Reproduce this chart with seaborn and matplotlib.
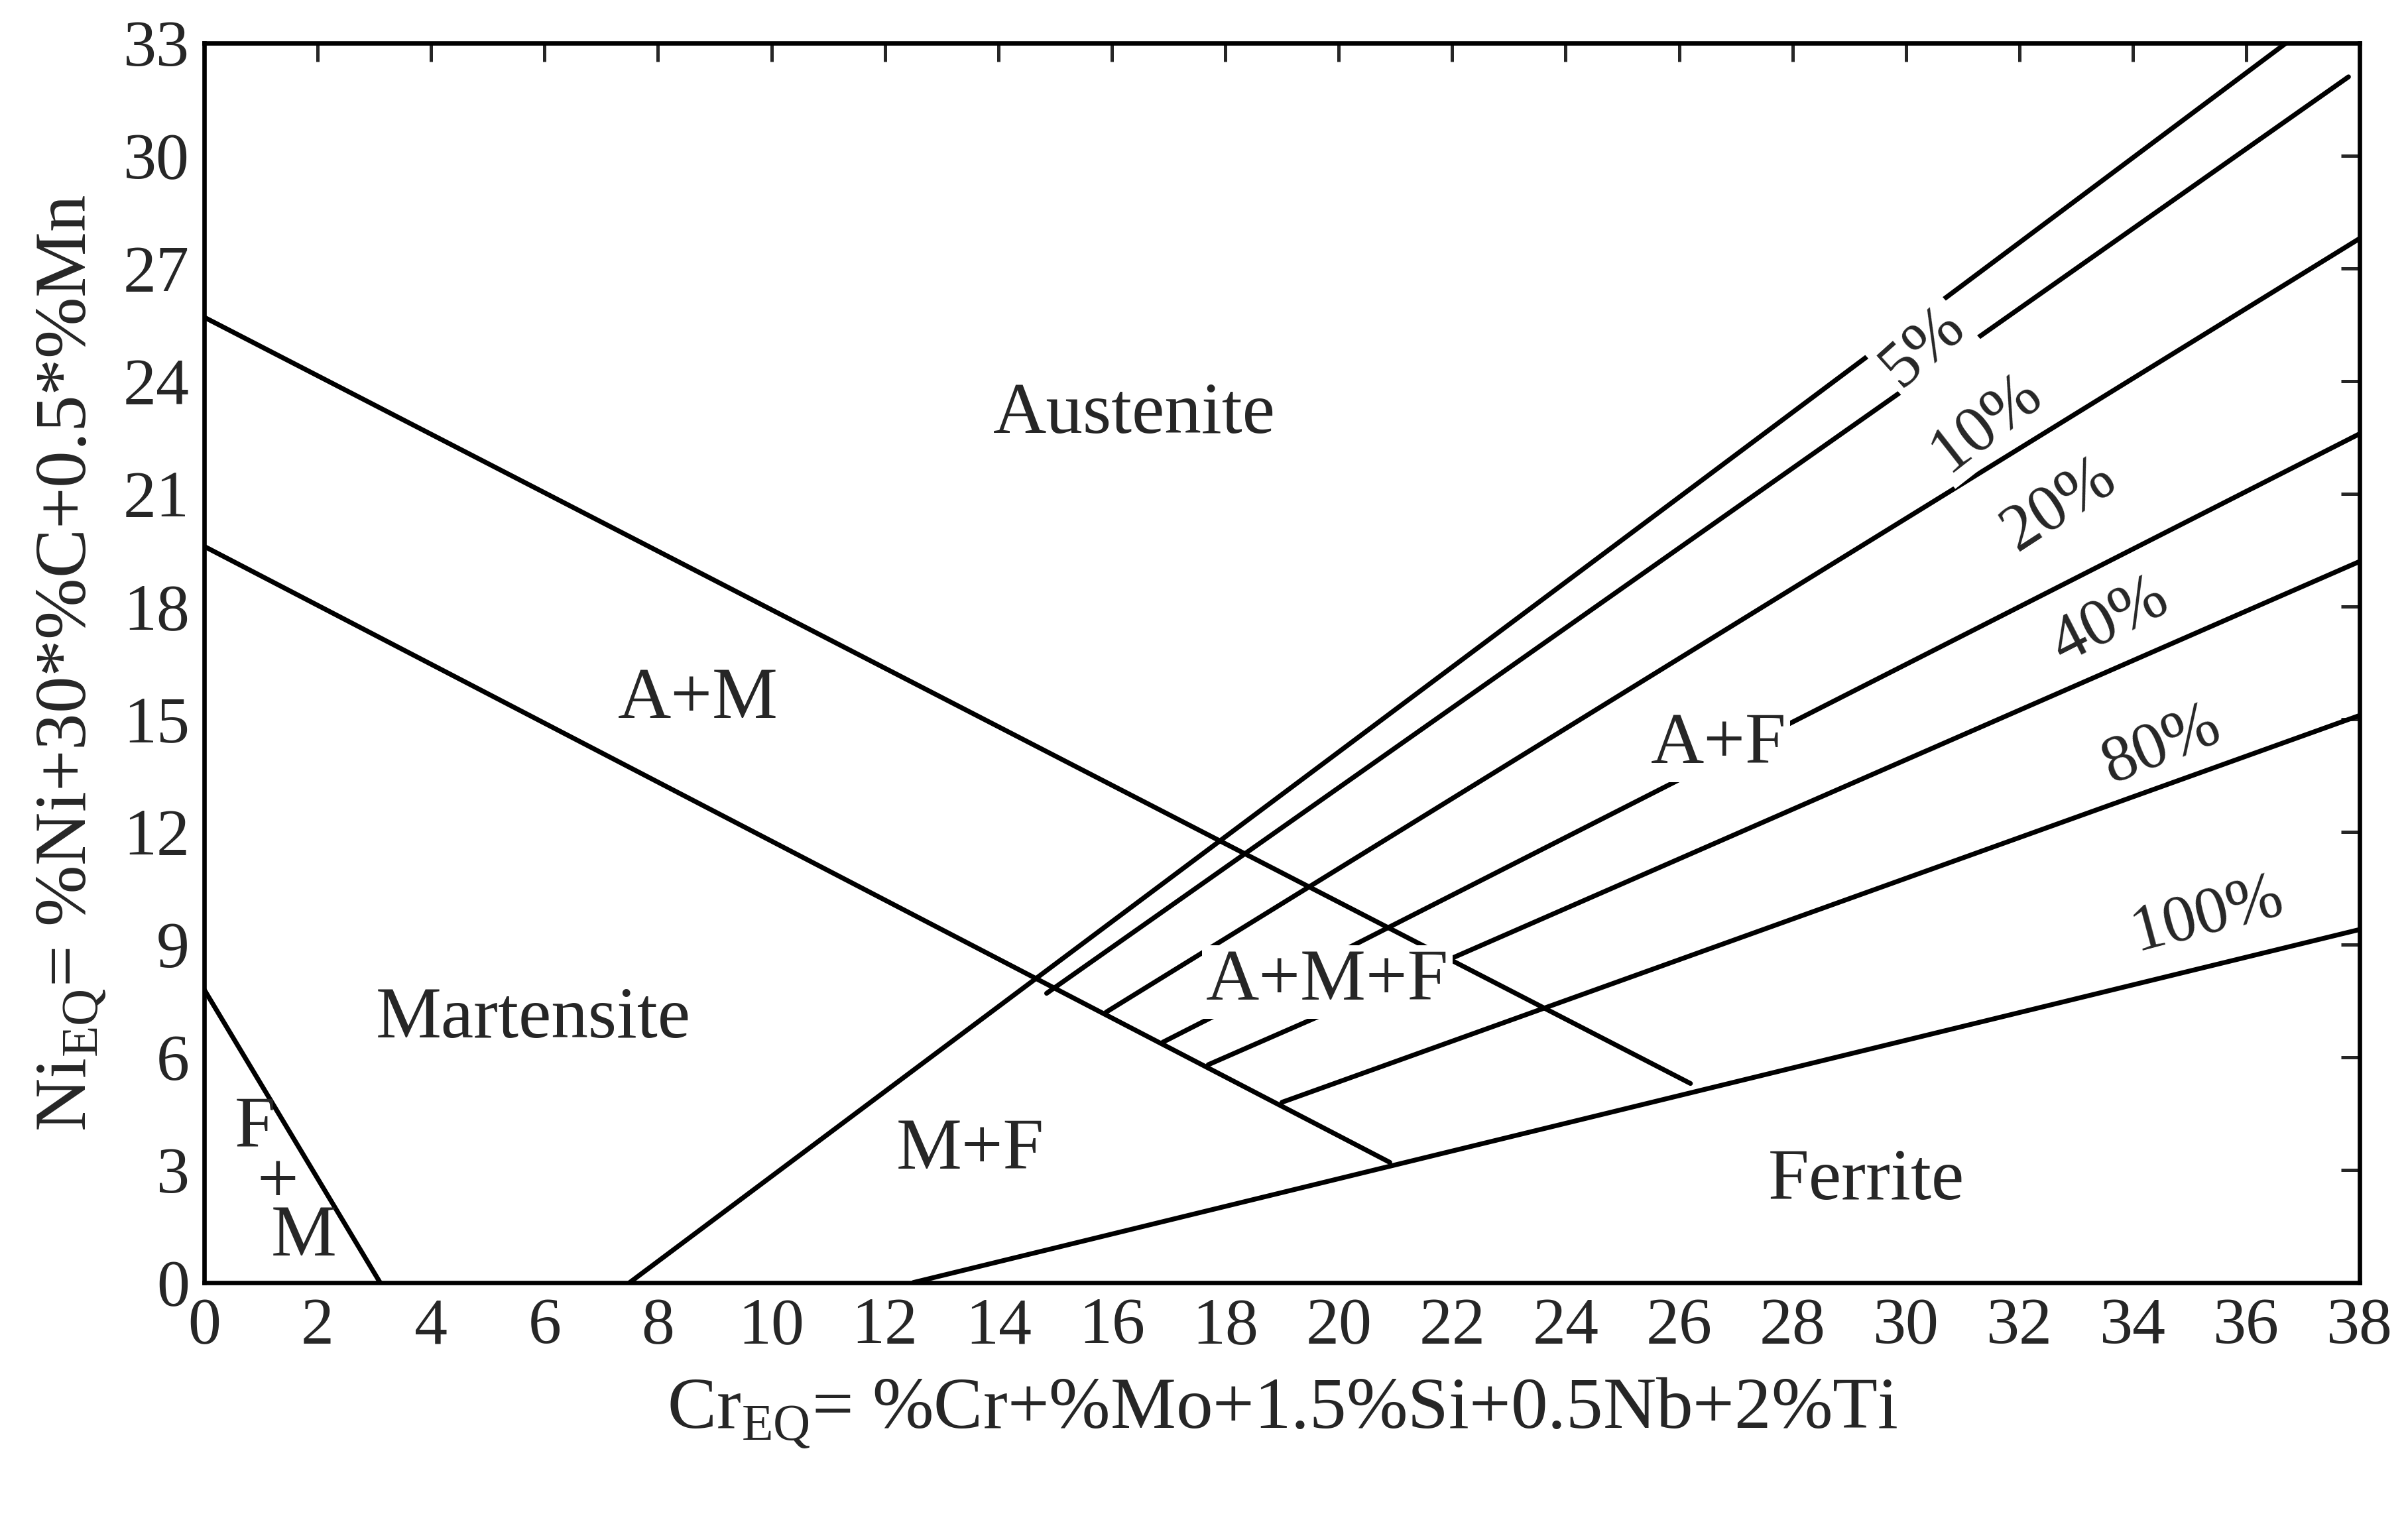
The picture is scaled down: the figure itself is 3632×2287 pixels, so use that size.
import pandas as pd
import matplotlib.pyplot as plt
import seaborn as sns

# Boundary lines of the Schaeffler diagram (start / end points)
line_names = ['FM', 'martensite', 'austenite', 'ferrite', 'p5', 'p10', 'p20', 'p40', 'p80', 'p100']
x_start = [0.0, 0.0, 0.0, 12.5, 7.5, 14.85, 15.9, 16.9, 17.7, 19.0]
y_start = [7.8, 19.6, 25.7, 0.0, 0.0, 7.7, 7.2, 6.4, 5.8, 4.8]
x_end = [3.1, 20.9, 26.2, 38.0, 36.7, 37.8, 38.0, 38.0, 38.0, 38.0]
y_end = [0.0, 3.2, 5.3, 9.4, 33.0, 32.1, 27.8, 22.6, 19.2, 15.1]

# Region labels
region_text = ['Austenite', 'A+M', 'Martensite', 'A+M+F', 'A+F', 'M+F', 'Ferrite', 'F', '+', 'M']
region_x = [16.4, 8.7, 5.8, 19.8, 26.7, 13.5, 29.3, 0.9, 1.3, 1.75]
region_y = [23.1, 15.5, 7.0, 8.0, 14.3, 3.5, 2.7, 4.1, 2.6, 1.2]

# Percentage labels on the lines
pct_text = ['5%', '10%', '20%', '40%', '80%', '100%']
pct_x = [30.3, 31.4, 32.7, 33.6, 34.5, 35.3]
pct_y = [24.9, 22.9, 20.7, 17.6, 14.3, 9.8]
pct_rot = [42, 38, 33, 27, 22, 15]

rows = []
for n, xs, ys, xe, ye in zip(line_names, x_start, y_start, x_end, y_end):
    rows.append({'line': n, 'x': xs, 'y': ys})
    rows.append({'line': n, 'x': xe, 'y': ye})
df = pd.DataFrame(rows)

sns.set_style('white')
plt.rcParams['font.family'] = ['Liberation Serif', 'DejaVu Serif']
plt.rcParams['mathtext.fontset'] = 'custom'
plt.rcParams['mathtext.rm'] = 'Liberation Serif'

fig = plt.figure(figsize=(18.16, 11.435), dpi=200)
ax = fig.add_axes([0.0848, 0.154, 0.8952, 0.8176])

sns.lineplot(data=df, x='x', y='y', units='line', estimator=None, sort=False,
             color='black', linewidth=2.6, ax=ax, legend=False)

box = dict(facecolor='white', edgecolor='none', pad=2)
for t, x, y in zip(region_text, region_x, region_y):
    ax.text(x, y, t, fontsize=40, ha='center', va='center',
            bbox=box if t in ('A+M+F', 'A+F') else None, zorder=5)
for t, x, y, r in zip(pct_text, pct_x, pct_y, pct_rot):
    ax.text(x, y, t, fontsize=36, ha='center', va='center', rotation=r,
            bbox=box, zorder=5)

ax.set_xlim(0, 38)
ax.set_ylim(0, 33)
ax.set_xticks(range(0, 39, 2))
ax.set_yticks(range(0, 34, 3))
ax.tick_params(direction='in', length=10, width=1.8, labelsize=36,
               top=True, right=True, pad=8)
for s in ax.spines.values():
    s.set_linewidth(2.4)
    s.set_color('black')

ax.set_xlabel(r'Cr$_{\mathrm{EQ}}$= %Cr+%Mo+1.5%Si+0.5Nb+2%Ti', fontsize=40, labelpad=10)
ax.set_ylabel(r'Ni$_{\mathrm{EQ}}$= %Ni+30*%C+0.5*%Mn', fontsize=40, labelpad=8)

fig.savefig('out.png', dpi=200)
